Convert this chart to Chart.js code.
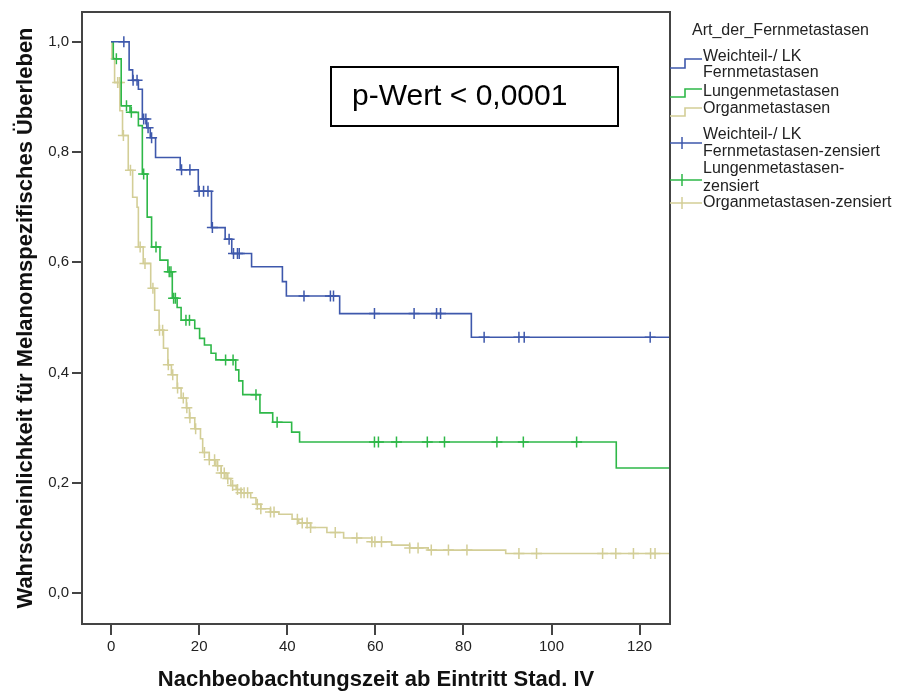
<!DOCTYPE html>
<html>
<head>
<meta charset="utf-8">
<script src="https://cdn.jsdelivr.net/npm/chart.js@4.4.0/dist/chart.umd.min.js"></script>
<style>
  body { margin: 0; background: #fff; }
</style>
</head>
<body>
<canvas id="km" width="897" height="693"></canvas>
<script>
// Achsen
const xTicks = [0, 20, 40, 60, 80, 100, 120];
const yTicks = [0, 0.2, 0.4, 0.6, 0.8, 1.0];

// Weichteil-/ LK Fernmetastasen (Stufenpunkte: Zeit / Überleben)
const weichZeit = [0, 4.1, 4.9, 6.2, 7.1, 8.1, 8.9, 10.1, 15.7, 19.8, 22.8, 25.9, 27.4, 31.9, 38.9, 39.8, 51.9, 81.8, 127];
const weichWert = [1.0, 0.949, 0.93, 0.914, 0.86, 0.844, 0.826, 0.79, 0.768, 0.729, 0.663, 0.642, 0.616, 0.592, 0.565, 0.539, 0.507, 0.464, 0.464];
const weichZensiert = [2.9, 5.0, 5.9, 7.4, 7.9, 8.4, 9.2, 16.0, 17.9, 20.0, 21.0, 22.0, 23.0, 26.8, 27.8, 28.7, 29.1, 43.8, 49.8, 50.5, 59.8, 68.8, 73.9, 74.8, 84.7, 92.6, 93.8, 122.4];

// Lungenmetastasen
const lungeZeit = [0, 0.5, 2.3, 4.3, 6.2, 7.1, 8.2, 9.2, 11.1, 12.9, 13.9, 15.0, 15.9, 19.0, 20.1, 21.2, 22.7, 23.8, 28.3, 29.0, 29.9, 33.8, 36.7, 41.0, 42.8, 114.7, 127];
const lungeWert = [1.0, 0.969, 0.884, 0.872, 0.848, 0.76, 0.682, 0.628, 0.604, 0.583, 0.535, 0.518, 0.495, 0.48, 0.462, 0.45, 0.435, 0.423, 0.405, 0.385, 0.36, 0.327, 0.31, 0.292, 0.274, 0.227, 0.227];
const lungeZensiert = [1.2, 3.5, 4.6, 7.4, 10.2, 13.2, 13.6, 14.2, 14.6, 17.0, 17.8, 26.0, 27.7, 32.9, 37.7, 59.8, 60.7, 64.8, 71.8, 75.7, 87.6, 93.6, 105.7];

// Organmetastasen
const organZeit = [0, 0.2, 0.8, 2.0, 2.6, 3.9, 4.9, 5.9, 6.2, 7.3, 9.0, 9.9, 10.9, 11.9, 12.9, 13.7, 15.0, 15.9, 17.1, 17.8, 19.0, 20.3, 20.8, 22.3, 23.8, 25.0, 26.1, 27.2, 28.4, 29.5, 31.7, 32.9, 34.0, 36.2, 38.1, 41.1, 42.6, 45.3, 49.0, 52.8, 59.2, 63.7, 67.8, 72.0, 89.6, 127];
const organWert = [1.0, 0.97, 0.926, 0.875, 0.83, 0.767, 0.718, 0.70, 0.628, 0.598, 0.553, 0.513, 0.477, 0.444, 0.414, 0.396, 0.372, 0.354, 0.336, 0.318, 0.298, 0.28, 0.255, 0.242, 0.231, 0.218, 0.208, 0.195, 0.188, 0.182, 0.173, 0.161, 0.153, 0.147, 0.143, 0.134, 0.127, 0.119, 0.11, 0.10, 0.093, 0.087, 0.082, 0.078, 0.072, 0.072];
const organZensiert = [1.5, 1.9, 2.8, 4.4, 6.6, 7.7, 9.5, 11.0, 11.7, 13.0, 14.0, 15.1, 16.4, 17.2, 17.9, 19.2, 21.2, 22.3, 23.5, 24.2, 25.0, 25.7, 26.5, 27.6, 28.7, 29.5, 30.2, 31.0, 33.2, 34.0, 36.2, 37.0, 42.3, 43.4, 44.5, 45.3, 50.9, 55.8, 59.2, 59.9, 61.4, 67.8, 69.7, 72.7, 76.6, 80.8, 92.6, 96.6, 111.6, 114.6, 118.6, 122.5, 123.5];

const farben = ['#3e58ac', '#2eb848', '#d3ce97'];
const legendTitel = 'Art_der_Fernmetastasen';
const gruppen = [
  ['Weichteil-/ LK', 'Fernmetastasen'],
  ['Lungenmetastasen'],
  ['Organmetastasen']
];
const zensiertLabels = [
  ['Weichteil-/ LK', 'Fernmetastasen-zensiert'],
  ['Lungenmetastasen-', 'zensiert'],
  ['Organmetastasen-zensiert']
];
const pText = 'p-Wert < 0,0001';

// Wert der Stufenfunktion zum Zeitpunkt t (für die Zensur-Kreuze)
function wertBei(zeit, wert, t) {
  let v = wert[0];
  for (let i = 0; i < zeit.length; i++) {
    if (zeit[i] <= t) v = wert[i];
  }
  return v;
}

function kurve(zeit, wert, farbe) {
  return {
    data: zeit.map((t, i) => ({ x: t, y: wert[i] })),
    borderColor: farbe,
    borderWidth: 1.6,
    stepped: true,
    pointRadius: 0,
    fill: false
  };
}

function kreuze(zens, zeit, wert, farbe) {
  return {
    data: zens.map(t => ({ x: t, y: wertBei(zeit, wert, t) })),
    showLine: false,
    pointStyle: 'cross',
    pointRadius: 5.5,
    borderColor: farbe,
    borderWidth: 1.5
  };
}

// Rahmen, p-Wert-Kasten und SPSS-artige Legende
const extras = {
  id: 'extras',
  afterDraw(chart) {
    const c = chart.ctx;
    const a = chart.chartArea;
    c.save();
    c.strokeStyle = '#444';
    c.lineWidth = 2;
    c.strokeRect(a.left, a.top, a.right - a.left, a.bottom - a.top);

    // p-Wert
    c.strokeStyle = '#000';
    c.lineWidth = 2;
    c.strokeRect(331, 67, 287, 59);
    c.fillStyle = '#000';
    c.font = '30px "Liberation Sans", Arial, sans-serif';
    c.textBaseline = 'middle';
    c.textAlign = 'left';
    c.fillText(pText, 352, 97);

    // Legende
    c.font = '16px "Liberation Sans", Arial, sans-serif';
    c.fillStyle = '#222';
    c.fillText(legendTitel, 692, 31);
    const tx = 703;
    const linienY = [[57, 73], [92], [109]];
    const stufe = [[68, 59], [97, 89], [116, 108]];
    gruppen.forEach((g, i) => {
      g.forEach((s, j) => c.fillText(s, tx, linienY[i][j]));
      c.strokeStyle = farben[i];
      c.lineWidth = 1.6;
      c.beginPath();
      c.moveTo(670, stufe[i][0]);
      c.lineTo(685, stufe[i][0]);
      c.lineTo(685, stufe[i][1]);
      c.lineTo(702, stufe[i][1]);
      c.stroke();
    });
    const zY = [[135, 152], [169, 187], [203]];
    const kreuzY = [143, 180, 203];
    zensiertLabels.forEach((g, i) => {
      c.fillStyle = '#222';
      g.forEach((s, j) => c.fillText(s, tx, zY[i][j]));
      c.strokeStyle = farben[i];
      c.lineWidth = 1.5;
      c.beginPath();
      c.moveTo(670, kreuzY[i]);
      c.lineTo(702, kreuzY[i]);
      c.moveTo(682, kreuzY[i] - 6);
      c.lineTo(682, kreuzY[i] + 6);
      c.stroke();
    });
    c.restore();
  }
};

new Chart(document.getElementById('km'), {
  type: 'line',
  data: {
    datasets: [
      kurve(weichZeit, weichWert, farben[0]),
      kurve(lungeZeit, lungeWert, farben[1]),
      kurve(organZeit, organWert, farben[2]),
      kreuze(weichZensiert, weichZeit, weichWert, farben[0]),
      kreuze(lungeZensiert, lungeZeit, lungeWert, farben[1]),
      kreuze(organZensiert, organZeit, organWert, farben[2])
    ]
  },
  options: {
    responsive: false,
    animation: false,
    devicePixelRatio: 1,
    events: [],
    layout: { padding: { top: 10, right: 227, left: 0, bottom: 0 } },
    plugins: { legend: { display: false }, tooltip: { enabled: false } },
    scales: {
      x: {
        type: 'linear',
        min: -6.6,
        max: 126.9,
        afterBuildTicks: ax => { ax.ticks = xTicks.map(v => ({ value: v })); },
        afterFit: ax => { ax.height = 69; },
        ticks: { color: '#222', font: { size: 15, family: '"Liberation Sans", Arial, sans-serif' }, padding: 3, maxRotation: 0, autoSkip: false },
        grid: { drawOnChartArea: false, drawTicks: true, tickLength: 11, color: '#444', lineWidth: 2 },
        border: { display: false },
        title: {
          display: true,
          text: 'Nachbeobachtungszeit ab Eintritt Stad. IV',
          color: '#111',
          font: { size: 22, weight: 'bold', family: '"Liberation Sans", Arial, sans-serif' },
          padding: { top: 0, bottom: 0 }
        }
      },
      y: {
        type: 'linear',
        min: -0.056,
        max: 1.054,
        afterBuildTicks: ax => { ax.ticks = yTicks.map(v => ({ value: v })); },
        afterFit: ax => { ax.width = 82; },
        ticks: {
          color: '#222',
          font: { size: 15, family: '"Liberation Sans", Arial, sans-serif' },
          padding: 3,
          callback: v => v.toFixed(1).replace('.', ',')
        },
        grid: { drawOnChartArea: false, drawTicks: true, tickLength: 10, color: '#444', lineWidth: 2 },
        border: { display: false },
        title: {
          display: true,
          text: 'Wahrscheinlichkeit für Melanomspezifisches Überleben',
          color: '#111',
          font: { size: 22, weight: 'bold', family: '"Liberation Sans", Arial, sans-serif' },
          padding: { top: 13, bottom: 0 }
        }
      }
    }
  },
  plugins: [extras]
});
</script>
</body>
</html>
